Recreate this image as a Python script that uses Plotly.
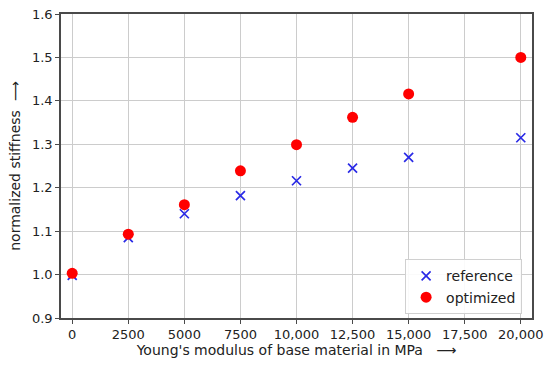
import plotly.graph_objects as go

youngs_modulus = [0, 2500, 5000, 7500, 10000, 12500, 15000, 20000]
reference_vals = [0.998, 1.085, 1.140, 1.182, 1.216, 1.245, 1.270, 1.315]
optimized_vals = [1.003, 1.093, 1.161, 1.239, 1.299, 1.362, 1.416, 1.500]

x_tickvals = [0, 2500, 5000, 7500, 10000, 12500, 15000, 17500, 20000]
x_ticktext = ["0", "2500", "5000", "7500", "10,000", "12,500", "15,000", "17,500", "20,000"]
y_tickvals = [0.9, 1.0, 1.1, 1.2, 1.3, 1.4, 1.5, 1.6]

font_family = "DejaVu Sans"
text_color = "#222222"

fig = go.Figure()
fig.add_trace(go.Scatter(
    x=youngs_modulus, y=reference_vals, mode="markers", name="reference",
    marker=dict(symbol="x-thin", size=9, line=dict(color="#2a2ae6", width=1.7), color="#2a2ae6"),
))
fig.add_trace(go.Scatter(
    x=youngs_modulus, y=optimized_vals, mode="markers", name="optimized",
    marker=dict(symbol="circle", size=11, color="#ff0000", line=dict(width=0)),
))

axis_common = dict(
    showline=True, linecolor="#4a4a4a", linewidth=1.5, mirror=True,
    showgrid=True, gridcolor="#cccccc", gridwidth=1,
    ticks="outside", ticklen=4, tickcolor="#4a4a4a", tickwidth=1,
    zeroline=False, automargin=False,
    tickfont=dict(family=font_family, size=13, color=text_color),
)

fig.update_layout(
    width=550, height=365,
    margin=dict(l=61, r=18, t=14, b=47),
    paper_bgcolor="white", plot_bgcolor="white",
    font=dict(family=font_family, size=13, color=text_color),
    xaxis=dict(
        range=[-500, 20500], tickvals=x_tickvals, ticktext=x_ticktext,
        title=dict(text="Young's modulus of base material in MPa   ⟶", standoff=2,
                   font=dict(family=font_family, size=14, color=text_color)),
        **axis_common,
    ),
    yaxis=dict(
        range=[0.9, 1.6], tickvals=y_tickvals, tickformat=".1f",
        title=dict(text="normalized stiffness  ⟶", standoff=8,
                   font=dict(family=font_family, size=14, color=text_color)),
        **axis_common,
    ),
    legend=dict(
        x=0.979, y=0.012, xanchor="right", yanchor="bottom",
        bordercolor="#d0d0d0", borderwidth=1, bgcolor="rgba(255,255,255,0.9)",
        font=dict(family=font_family, size=14, color=text_color),
        itemwidth=30,
    ),
    showlegend=True,
)

fig.write_html(
    "out.html",
    config={"displayModeBar": False},
    post_script="document.body.style.margin='0';document.body.style.overflow='hidden';",
)
